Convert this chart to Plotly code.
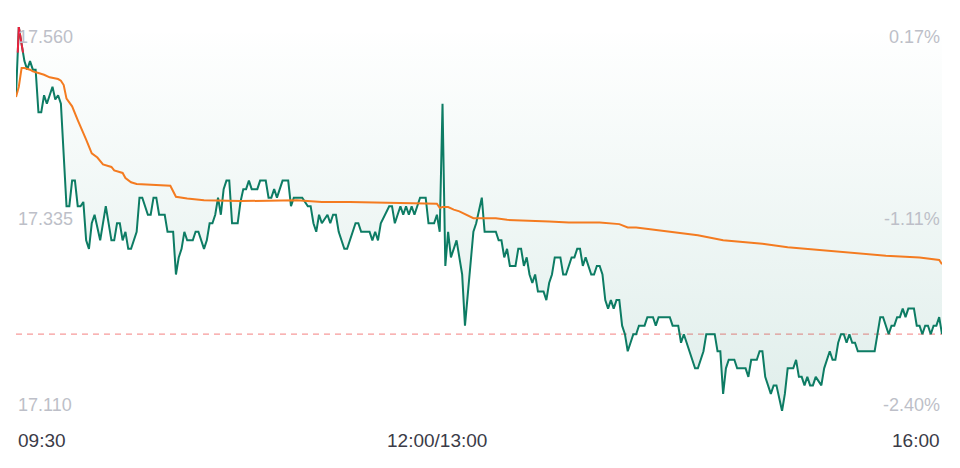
import plotly.graph_objects as go

# minute index from 09:30 (lunch 12:00/13:00 joined at 150), 330 = 16:00
price_minute = [
    0, 1, 2, 3, 4, 5, 6, 7, 8, 9, 10, 11, 12, 13, 14, 15, 16, 18, 19, 20,
    21, 22, 23, 24, 25, 26, 27, 28, 30, 32, 34, 35, 36, 37, 38, 39, 40, 41, 43, 44,
    45, 47, 48, 49, 50, 51, 53, 54, 56, 57, 58, 59, 60, 61, 63, 64, 65, 67, 68, 69,
    70, 71, 72, 73, 74, 75, 76, 77, 79, 80, 81, 82, 83, 84, 86, 87, 89, 90, 91, 92,
    93, 95, 97, 98, 99, 102, 104, 105, 106, 107, 108, 109, 111, 112, 113, 114, 115, 117, 118, 120,
    121, 122, 123, 126, 127, 128, 129, 130, 133, 134, 135, 137, 138, 139, 140, 141, 142, 144, 146, 147,
    149, 150, 151, 152, 153, 154, 155, 157, 159, 160, 161, 163, 164, 166, 167, 171, 172, 173, 174, 175,
    176, 178, 179, 180, 181, 182, 183, 184, 185, 186, 188, 189, 190, 191, 192, 194, 195, 196, 198, 199,
    200, 201, 202, 203, 205, 206, 207, 208, 209, 210, 211, 212, 213, 214, 215, 216, 217, 218, 220, 221,
    222, 224, 225, 227, 228, 229, 233, 234, 236, 237, 238, 240, 242, 243, 245, 246, 249, 250, 251, 252,
    253, 254, 256, 257, 260, 261, 262, 264, 265, 266, 267, 269, 270, 271, 273, 274, 275, 277, 278, 279,
    280, 281, 282, 283, 284, 285, 287, 288, 289, 290, 291, 292, 293, 294, 295, 296, 297, 298, 299, 300,
    306, 307, 308, 309, 310, 311, 312, 313, 314, 315, 316, 317, 318, 320, 321, 322, 323, 324, 325, 326,
    327, 328, 329, 330,
]
price = [
    17.48, 17.56, 17.54, 17.52, 17.51, 17.52, 17.51, 17.51, 17.46, 17.46, 17.48, 17.47, 17.48, 17.49, 17.475, 17.48, 17.47, 17.35, 17.35, 17.38,
    17.38, 17.35, 17.35, 17.355, 17.31, 17.30, 17.33, 17.34, 17.31, 17.35, 17.31, 17.31, 17.33, 17.33, 17.31, 17.32, 17.30, 17.30, 17.32, 17.36,
    17.36, 17.34, 17.34, 17.36, 17.36, 17.34, 17.34, 17.32, 17.32, 17.27, 17.29, 17.30, 17.32, 17.31, 17.31, 17.32, 17.32, 17.30, 17.31, 17.33,
    17.33, 17.34, 17.36, 17.34, 17.37, 17.38, 17.38, 17.33, 17.33, 17.355, 17.37, 17.37, 17.38, 17.37, 17.37, 17.38, 17.38, 17.36, 17.36, 17.37,
    17.36, 17.38, 17.38, 17.35, 17.36, 17.36, 17.35, 17.35, 17.33, 17.32, 17.34, 17.33, 17.34, 17.33, 17.34, 17.34, 17.32, 17.30, 17.30, 17.32,
    17.33, 17.33, 17.32, 17.32, 17.31, 17.32, 17.31, 17.33, 17.35, 17.35, 17.33, 17.35, 17.34, 17.35, 17.34, 17.35, 17.34, 17.36, 17.36, 17.33,
    17.33, 17.34, 17.32, 17.47, 17.28, 17.32, 17.29, 17.31, 17.27, 17.21, 17.25, 17.32, 17.33, 17.36, 17.32, 17.32, 17.31, 17.31, 17.29, 17.30,
    17.28, 17.28, 17.30, 17.30, 17.28, 17.29, 17.27, 17.26, 17.27, 17.25, 17.25, 17.24, 17.26, 17.27, 17.29, 17.29, 17.27, 17.27, 17.29, 17.29,
    17.30, 17.30, 17.28, 17.29, 17.27, 17.27, 17.28, 17.28, 17.27, 17.24, 17.23, 17.24, 17.23, 17.24, 17.24, 17.21, 17.20, 17.18, 17.20, 17.20,
    17.21, 17.21, 17.22, 17.22, 17.21, 17.22, 17.22, 17.21, 17.21, 17.19, 17.20, 17.18, 17.16, 17.16, 17.18, 17.20, 17.20, 17.18, 17.18, 17.13,
    17.16, 17.17, 17.17, 17.16, 17.16, 17.15, 17.17, 17.17, 17.18, 17.18, 17.15, 17.13, 17.14, 17.14, 17.11, 17.13, 17.16, 17.16, 17.17, 17.15,
    17.15, 17.14, 17.15, 17.14, 17.14, 17.15, 17.14, 17.16, 17.17, 17.18, 17.17, 17.17, 17.19, 17.20, 17.20, 17.19, 17.20, 17.19, 17.19, 17.18,
    17.18, 17.20, 17.22, 17.22, 17.21, 17.20, 17.21, 17.21, 17.22, 17.22, 17.23, 17.22, 17.23, 17.23, 17.21, 17.21, 17.20, 17.21, 17.21, 17.20,
    17.21, 17.21, 17.22, 17.20,
]

avg_minute = [
    0, 1, 2, 3, 5, 6, 8, 10, 12, 15, 16, 17, 18, 20, 22, 23, 25, 27, 29, 31,
    34, 35, 38, 39, 41, 43, 48, 55, 57, 61, 67, 80, 100, 109, 119, 136, 150, 151, 152, 154,
    156, 158, 161, 163, 171, 175, 190, 197, 208, 215, 218, 221, 226, 234, 243, 252, 266, 275, 286, 298,
    310, 322, 329, 330,
]
avg_price = [
    17.478, 17.490, 17.512, 17.512, 17.510, 17.508, 17.506, 17.504, 17.501, 17.499, 17.497, 17.492, 17.476, 17.467, 17.451, 17.444, 17.428, 17.412, 17.407, 17.399,
    17.396, 17.392, 17.389, 17.383, 17.378, 17.376, 17.375, 17.374, 17.361, 17.359, 17.357, 17.356, 17.357, 17.355, 17.355, 17.354, 17.353, 17.348, 17.349, 17.349,
    17.346, 17.344, 17.339, 17.336, 17.336, 17.334, 17.332, 17.331, 17.331, 17.329, 17.325, 17.325, 17.323, 17.320, 17.316, 17.310, 17.306, 17.302, 17.299, 17.295,
    17.292, 17.290, 17.287, 17.282,
]

prev_close = 17.53
ref_level = 17.20
y_lo, y_hi = 17.110, 17.560
price_ticks = ["17.560", "17.335", "17.110"]
pct_ticks = ["0.17%", "-1.11%", "-2.40%"]
time_ticks = ["09:30", "12:00/13:00", "16:00"]
time_tick_minutes = [0, 150, 330]

GREEN = "#0d7c64"
RED = "#e8223c"
ORANGE = "#f47b20"
LABEL = "#bdbfc8"
FONT = "Liberation Sans, Arial, sans-serif"

# parts of the price line above previous close are drawn red
pts = list(zip(price_minute, price))
red_x, red_y = [], []
for (x0, y0), (x1, y1) in zip(pts, pts[1:]):
    if y0 < prev_close and y1 < prev_close:
        continue
    if y0 >= prev_close and y1 >= prev_close:
        a, b = (x0, y0), (x1, y1)
    else:
        xc = x0 + (x1 - x0) * (prev_close - y0) / (y1 - y0)
        a = (x0, y0) if y0 >= prev_close else (xc, prev_close)
        b = (x1, y1) if y1 >= prev_close else (xc, prev_close)
    red_x += [a[0], b[0], None]
    red_y += [a[1], b[1], None]

fig = go.Figure()
fig.add_trace(go.Scatter(x=price_minute, y=[y_hi] * len(price_minute), mode="lines",
                         line=dict(width=0), hoverinfo="skip", showlegend=False))
fig.add_trace(go.Scatter(
    x=price_minute, y=price, mode="lines", fill="tonexty",
    fillgradient=dict(type="vertical", start=y_lo, stop=y_hi,
                      colorscale=[[0, "rgba(13,124,100,0.13)"], [1, "rgba(13,124,100,0.0)"]]),
    line=dict(color=GREEN, width=2), showlegend=False))
fig.add_trace(go.Scatter(x=red_x, y=red_y, mode="lines",
                         line=dict(color=RED, width=2), showlegend=False))
fig.add_trace(go.Scatter(x=avg_minute, y=avg_price, mode="lines",
                         line=dict(color=ORANGE, width=2), showlegend=False))

fig.add_hline(y=ref_level, line=dict(color="rgba(243,120,120,0.75)", width=1.3, dash="6px,5px"),
              layer="below")

# axis labels drawn inside the plot
yshift = [-10, 0, 6]
for lab, pct, yv, s in zip(price_ticks, pct_ticks, [y_hi, (y_hi + y_lo) / 2, y_lo], yshift):
    fig.add_annotation(x=0, xref="paper", y=yv, yref="y", text=lab, showarrow=False,
                       xanchor="left", yanchor="middle", yshift=s,
                       font=dict(size=18, color=LABEL, family=FONT))
    fig.add_annotation(x=1, xref="paper", y=yv, yref="y", text=pct, showarrow=False,
                       xanchor="right", yanchor="middle", yshift=s,
                       font=dict(size=18, color=LABEL, family=FONT))

for lab, xm, anc in zip(time_ticks, time_tick_minutes, ["left", "center", "right"]):
    fig.add_annotation(x=xm, xref="x", y=0, yref="paper", text=lab, showarrow=False,
                       xanchor=anc, yanchor="middle", yshift=-29,
                       font=dict(size=19, color="#3b3b47", family=FONT))

# page body adds an 8px offset, so margins are trimmed to keep the plot area in place
fig.update_layout(
    width=960, height=468,
    margin=dict(l=8, r=26, t=19, b=65),
    plot_bgcolor="white", paper_bgcolor="white",
    font=dict(family=FONT),
    xaxis=dict(range=[0, 330], showgrid=False, zeroline=False, showticklabels=False, fixedrange=True),
    yaxis=dict(range=[y_lo, y_hi], showgrid=False, zeroline=False, showticklabels=False, fixedrange=True),
)

fig.write_html("out.html")
